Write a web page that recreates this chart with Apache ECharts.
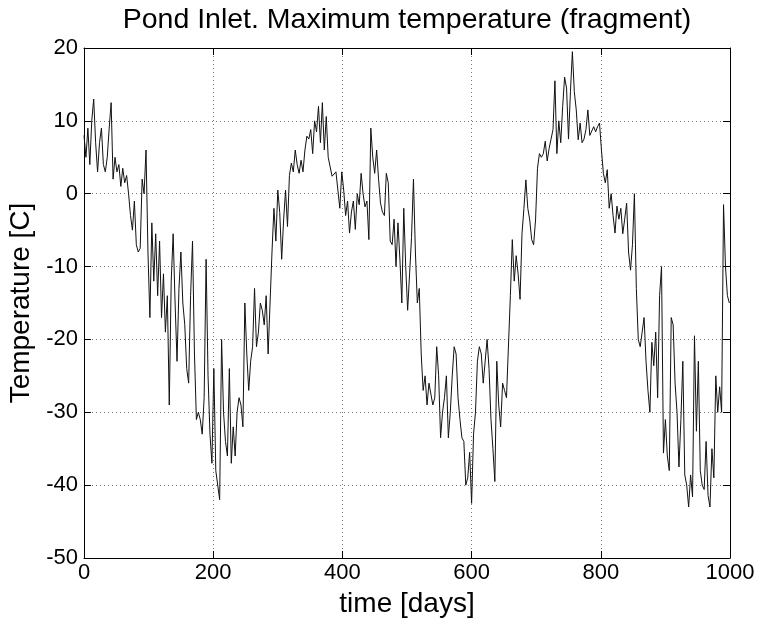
<!DOCTYPE html>
<html>
<head>
<meta charset="utf-8">
<title>Pond Inlet. Maximum temperature (fragment)</title>
<script src="https://cdn.jsdelivr.net/npm/echarts@6/dist/echarts.min.js"></script>
<style>
  html, body { margin: 0; padding: 0; background: #fff; }
  #chart { width: 757px; height: 629px; }
</style>
</head>
<body>
<div id="chart"></div>
<script>
// daily maximum temperature, every 3rd day (day 0, 3, 6, ... 999)
const STEP_DAYS = 3
const maxTemp = [
  // days 0 - 126
  8, 5, 9, 4, 10, 13, 7, 3, 7, 9, 4, 3, 5, 9, 12.5, 2, 5, 3, 4, 1, 3.5, 1.5,
  2.5, 0, -3, -5, -1, -7, -8, -7.5, 2, 0, 6, -8, -17, -4, -12, -5.5, -14, -6.5, -17, -11, -19,
  // days 129 - 252
  -14, -29, -12, -5.5, -15, -23, -13, -8, -15, -18, -24, -26, -14, -6.5, -22, -31, -30, -31,
  -33, -28, -9, -25, -33, -37, -24, -38, -38, -42, -20, -30, -34, -36, -24, -37, -32, -36,
  -30, -28, -29, -32, -15, -22,
  // days 255 - 378
  -27, -23, -21, -13, -21, -19, -15, -16, -18, -14, -22, -15, -8, -2, -6.5, 0.5, -2.6, -9,
  -3.6, 0.5, -4.5, 2.5, 4.2, 3, 6, 4, 2.8, 4.6, 3, 6, 7.9, 7.5, 8.8, 5.5, 10, 8.5, 12, 7,
  12.5, 6, 10.6, 5,
  // days 381 - 507
  5, 2.4, 2.5, 3, 0.5, -2, 3, 0.5, -3, -1, -5.4, -2.5, -1, -4.9, 0, -1.5, 2.8, 0, -1.8, -1,
  -6.3, 9, 5, 2.8, 6, 2, -1.3, -2.5, -3, 2.8, 1.5, -6.5, -7, -3.5, -10, -4, -9, -15, -2,
  -10, -16, -11, -6,
  // days 510 - 633
  2, -8, -15, -13, -22, -27, -25, -29, -26, -26, -29, -28, -21, -25, -33.5, -30, -28, -25,
  -33.5, -30, -25, -21, -22, -28, -31, -33.5, -34, -40, -39, -35.5, -42.5, -33, -30, -23,
  -21, -22, -26, -23, -20, -24, -31, -35,
  // days 636 - 762
  -39.5, -23, -29, -32, -26, -27, -28, -28, -14, -6.3, -12, -8.5, -11, -14.5, -5.5, -2, 1.9,
  -2, -3.6, -6.3, -7, -3.6, 3.5, 5.5, 5, 5.5, 7.2, 4.5, 6.2, 7.5, 8.8, 15.5, 5.5, 10, 7, 12,
  16, 14.5, 7.5, 14, 19.5, 14, 11.5,
  // days 765 - 876
  7.4, 9.7, 7, 7.5, 8.8, 11.5, 8, 8, 9.2, 8.5, 9.2, 9.7, 6, 2.8, 1.5, 3.3, -2, 0, -3, -5.4,
  -1.7, -3.5, -2, -5.5, -3.5, -1.3, -8, -10.5, -7, 0, -13, -20, -21, -19, -17, -23, -27, -30,
  // days 879 - 999
  -20.4, -23.6, -19, -28, -14, -10, -35.6, -31, -36, -38, -17, -18, -26, -30, -37.5, -31,
  -23, -38.6, -40, -43, -38.6, -41.6, -19.5, -32.6, -23, -38, -40, -40.6, -34, -41.4, -43,
  -35, -39, -25, -30, -26.5, -30, -1.5, -10, -14, -15
]

const xTicks = { min: 0, max: 1000, interval: 200 }
const yTicks = { min: -50, max: 20, interval: 10 }

const FONT = '"Liberation Sans", Arial, Helvetica, sans-serif'

const chart = echarts.init(document.getElementById('chart'), null, { renderer: 'canvas' })

const seriesData = maxTemp.map((t, i) => [i * STEP_DAYS, t])

const frameAxis = {
  axisLine: { show: true, onZero: false, lineStyle: { color: '#000', width: 1 } },
  axisTick: { show: true, inside: true, length: 7, lineStyle: { color: '#000', width: 1 } },
}

chart.setOption({
  animation: false,
  backgroundColor: '#fff',
  title: {
    text: 'Pond Inlet. Maximum temperature (fragment)',
    left: 402,
    textAlign: 'center',
    top: 1,
    textStyle: { fontFamily: FONT, fontSize: 28.5, fontWeight: 'normal', color: '#000' },
  },
  grid: { left: 84, right: 27, top: 48, bottom: 71, containLabel: false, outerBoundsMode: 'none' },
  xAxis: [
    {
      type: 'value',
      position: 'bottom',
      ...xTicks,
      name: 'time [days]',
      nameLocation: 'middle',
      nameGap: 32,
      nameTextStyle: { fontFamily: FONT, fontSize: 28, color: '#000' },
      ...frameAxis,
      axisLabel: { fontFamily: FONT, fontSize: 22, color: '#000', margin: 4, formatter: v => String(v) },
      splitLine: { show: true, lineStyle: { color: '#777', type: [1, 3], width: 1 } },
    },
    {
      type: 'value',
      position: 'top',
      ...xTicks,
      ...frameAxis,
      axisLabel: { show: false },
      splitLine: { show: false },
    },
  ],
  yAxis: [
    {
      type: 'value',
      position: 'left',
      ...yTicks,
      name: 'Temperature [C]',
      nameLocation: 'middle',
      nameGap: 38,
      nameTextStyle: { fontFamily: FONT, fontSize: 28, color: '#000' },
      ...frameAxis,
      axisLabel: { fontFamily: FONT, fontSize: 22, color: '#000', margin: 6, formatter: v => String(v) },
      splitLine: { show: true, lineStyle: { color: '#777', type: [1, 3], width: 1 } },
    },
    {
      type: 'value',
      position: 'right',
      ...yTicks,
      ...frameAxis,
      axisLabel: { show: false },
      splitLine: { show: false },
    },
  ],
  series: [
    {
      type: 'line',
      data: seriesData,
      showSymbol: false,
      symbol: 'none',
      lineStyle: { color: '#111', width: 1 },
      z: 3,
    },
  ],
})
</script>
</body>
</html>
